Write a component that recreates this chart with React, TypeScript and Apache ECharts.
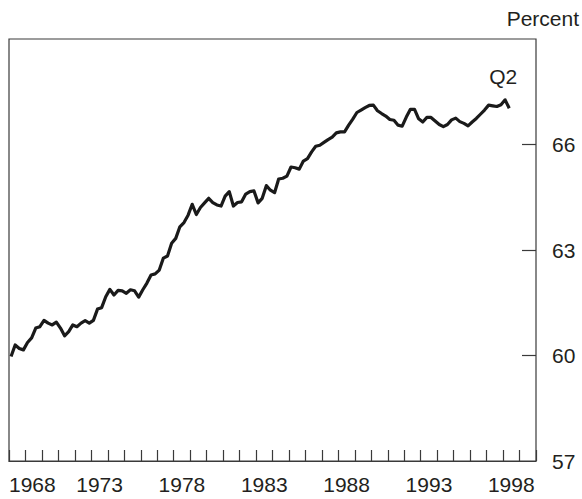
import React, { useEffect, useRef } from "react";
import * as echarts from "echarts";

// Quarterly values, 1968 Q1 .. 1998 Q2 (percent)
const startYear = 1968;
const values: number[] = [
  59.97, 60.30, 60.20, 60.16, 60.37, 60.50, 60.78, 60.82,
  61.00, 60.92, 60.87, 60.95, 60.78, 60.56, 60.68, 60.87,
  60.82, 60.92, 60.99, 60.92, 61.00, 61.32, 61.36, 61.67,
  61.88, 61.72, 61.85, 61.84, 61.77, 61.87, 61.84, 61.66,
  61.87, 62.06, 62.29, 62.32, 62.43, 62.77, 62.83, 63.19,
  63.33, 63.66, 63.78, 63.99, 64.30, 64.01, 64.21, 64.34,
  64.47, 64.35, 64.28, 64.25, 64.53, 64.66, 64.25, 64.35,
  64.37, 64.59, 64.66, 64.68, 64.34, 64.47, 64.83, 64.70,
  64.63, 65.02, 65.04, 65.10, 65.36, 65.34, 65.30, 65.53,
  65.60, 65.79, 65.95, 65.98, 66.06, 66.14, 66.21, 66.33,
  66.36, 66.36, 66.55, 66.72, 66.91, 66.98, 67.05, 67.11,
  67.12, 66.96, 66.88, 66.81, 66.71, 66.69, 66.55, 66.52,
  66.78, 67.00, 67.00, 66.73, 66.64, 66.77, 66.77, 66.67,
  66.57, 66.51, 66.57, 66.70, 66.75, 66.65, 66.60, 66.53,
  66.64, 66.74, 66.86, 66.98, 67.12, 67.10, 67.08, 67.13,
  67.27, 67.03,
];
const yearLabels: number[] = [1968, 1973, 1978, 1983, 1988, 1993, 1998];
const yTickLabels: number[] = [57, 60, 63, 66];
const yTickMarks: number[] = [60, 63, 66];
const xMin = 1968;
const xMax = 2000;
const yMin = 57;
const yMax = 69;
const lastLabel = "Q2";
const unitLabel = "Percent";

const FONT = "'Liberation Sans', Arial, Helvetica, sans-serif";
const TEXT = "#231f20";
const AXIS = "#3a3a3a";

export default function App() {
  const ref = useRef<HTMLDivElement>(null);
  useEffect(() => {
    if (!ref.current) return;
    const chart = echarts.init(ref.current, undefined, { renderer: "svg" });
    const points = values.map((v, i) => [startYear + (i + 0.5) / 4, v]);
    const last = points[points.length - 1];
    chart.setOption({
      animation: false,
      backgroundColor: "#ffffff",
      title: {
        text: unitLabel,
        right: 3,
        top: 8,
        padding: 0,
        textStyle: { fontFamily: FONT, fontSize: 21, fontWeight: "normal", color: TEXT },
      },
      grid: {
        left: 9,
        right: 46,
        top: 39,
        bottom: 38,
        show: true,
        borderColor: AXIS,
        borderWidth: 1.2,
        backgroundColor: "transparent",
      },
      xAxis: [
        {
          type: "value",
          min: xMin,
          max: xMax,
          interval: 1,
          position: "bottom",
          axisLine: { show: true, lineStyle: { color: AXIS, width: 1.2 } },
          axisTick: { show: true, inside: true, length: 11, lineStyle: { color: AXIS, width: 1.2 } },
          axisLabel: { show: false },
          splitLine: { show: false },
        },
        {
          type: "value",
          min: xMin,
          max: xMax,
          interval: 0.5,
          position: "bottom",
          offset: 0,
          axisLine: { show: false },
          axisTick: { show: false },
          splitLine: { show: false },
          axisLabel: {
            show: true,
            margin: 13,
            fontFamily: FONT,
            fontSize: 21,
            color: TEXT,
            alignMinLabel: "left",
            showMinLabel: true,
            showMaxLabel: false,
            formatter: (v: number) => {
              if (v === xMin && yearLabels.includes(xMin)) return String(xMin);
              const y = v - 0.5;
              if (Number.isInteger(y) && y !== xMin && yearLabels.includes(y)) return String(y);
              return "";
            },
          },
        },
      ],
      yAxis: {
        type: "value",
        position: "right",
        min: yMin,
        max: yMax,
        interval: 3,
        axisLine: { show: false },
        axisTick: {
          show: true,
          inside: true,
          length: 14,
          customValues: yTickMarks,
          lineStyle: { color: AXIS, width: 1.2 },
        },
        splitLine: { show: false },
        axisLabel: {
          margin: 16,
          fontFamily: FONT,
          fontSize: 21,
          color: TEXT,
          showMaxLabel: false,
          formatter: (v: number) => (yTickLabels.includes(v) ? String(v) : ""),
        },
      },
      series: [
        {
          type: "line",
          xAxisIndex: 0,
          data: points,
          showSymbol: false,
          symbol: "none",
          lineStyle: { color: "#1a1a1a", width: 3.2, join: "round" },
          markPoint: {
            symbol: "circle",
            symbolSize: 0,
            data: [
              {
                coord: last,
                label: {
                  show: true,
                  formatter: lastLabel,
                  position: "top",
                  distance: 21,
                  offset: [-6, 0],
                  fontFamily: FONT,
                  fontSize: 21,
                  color: TEXT,
                },
              },
            ],
          },
        },
      ],
    });
    return () => chart.dispose();
  }, []);
  return (
    <div
      ref={ref}
      style={{ position: "fixed", left: 0, top: 0, width: 582, height: 499 }}
    />
  );
}
